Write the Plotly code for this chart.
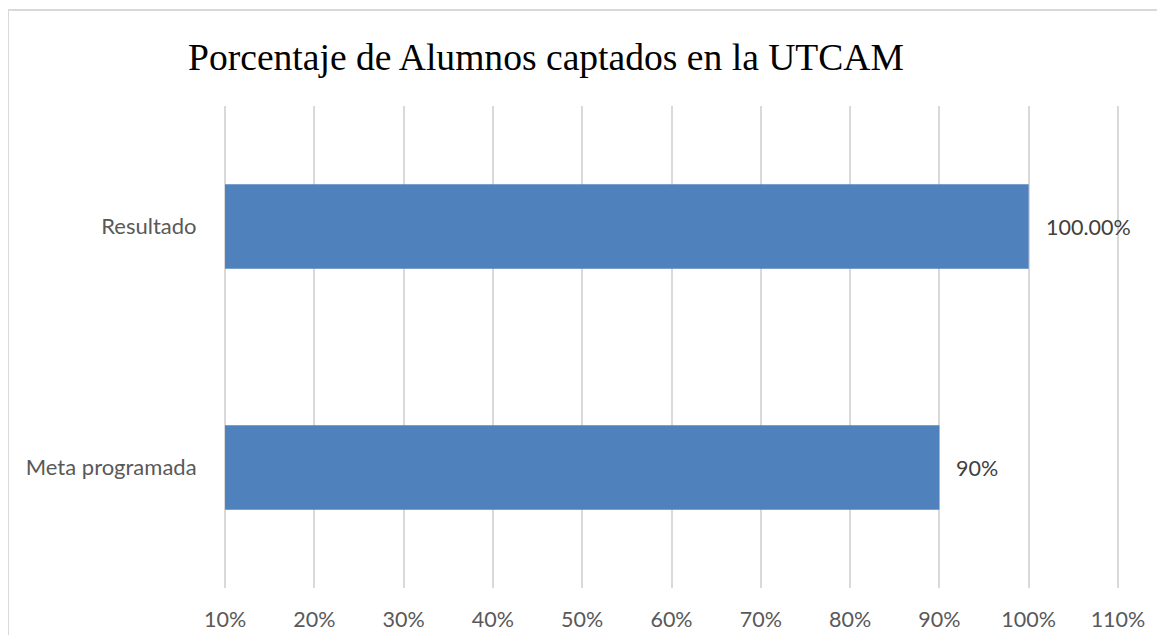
import plotly.graph_objects as go

categories = ["Meta programada", "Resultado"]
values = [0.90, 1.00]
value_labels = ["90%", "100.00%"]
tick_values = [0.1, 0.2, 0.3, 0.4, 0.5, 0.6, 0.7, 0.8, 0.9, 1.0, 1.1]
tick_labels = ["10%", "20%", "30%", "40%", "50%", "60%", "70%", "80%", "90%", "100%", "110%"]
title_text = "Porcentaje de Alumnos captados en la UTCAM"

OFF = 8  # default body margin of the html page
W, H = 1165 - 2 * OFF, 643 - 2 * OFF
ML, MT = 222 - OFF, 106 - OFF
PR, PB = 1121 - OFF, 588 - OFF
MR, MB = W - PR, H - PB
PW, PH = W - ML - MR, H - MT - MB

def px_to_paper_x(px):
    return (px - OFF - ML) / PW

def px_to_paper_y(py):
    return (H - MB - (py - OFF)) / PH

axis_min = tick_values[0]  # Excel draws the bars from the axis minimum

fig = go.Figure(go.Bar(
    x=[v - axis_min for v in values], base=axis_min, y=categories, orientation="h",
    marker=dict(color="#4f81bd", line=dict(width=0)),
    width=0.35,
    hoverinfo="skip",
))

annotations = [
    dict(x=v, y=c, xref="x", yref="y", text=t, showarrow=False,
         xanchor="left", yanchor="middle", xshift=15,
         font=dict(family="Lato", size=21.5, color="#404040"))
    for v, c, t in zip(values, categories, value_labels)
]

fig.update_layout(
    width=W, height=H,
    margin=dict(l=ML, r=MR, t=MT, b=MB, autoexpand=False),
    paper_bgcolor="white", plot_bgcolor="white",
    showlegend=False,
    title=dict(text=title_text, x=(188 - OFF) / W, xanchor="left", xref="container",
               y=1 - (57 - OFF) / H, yanchor="middle", yref="container",
               font=dict(family="Liberation Serif", size=37.6, color="black")),
    xaxis=dict(range=[0.0966, 1.1034], tickvals=tick_values, ticktext=tick_labels,
               automargin=False,
               showgrid=True, gridcolor="#d9d9d9", gridwidth=2, zeroline=False,
               showline=False, ticks="outside", ticklen=12, tickcolor="rgba(0,0,0,0)",
               tickfont=dict(family="Lato", size=21.5, color="#595959")),
    yaxis=dict(showgrid=False, zeroline=False, showline=False, automargin=False,
               ticks="outside", ticklen=20, tickcolor="rgba(0,0,0,0)",
               tickfont=dict(family="Lato", size=22, color="#595959")),
    annotations=annotations,
    shapes=[dict(type="rect", xref="paper", yref="paper",
                 x0=px_to_paper_x(8), x1=px_to_paper_x(1185),
                 y0=px_to_paper_y(670), y1=px_to_paper_y(10),
                 line=dict(color="#d9d9d9", width=2), fillcolor="rgba(0,0,0,0)",
                 layer="below")],
)

fig.write_html("out.html")
